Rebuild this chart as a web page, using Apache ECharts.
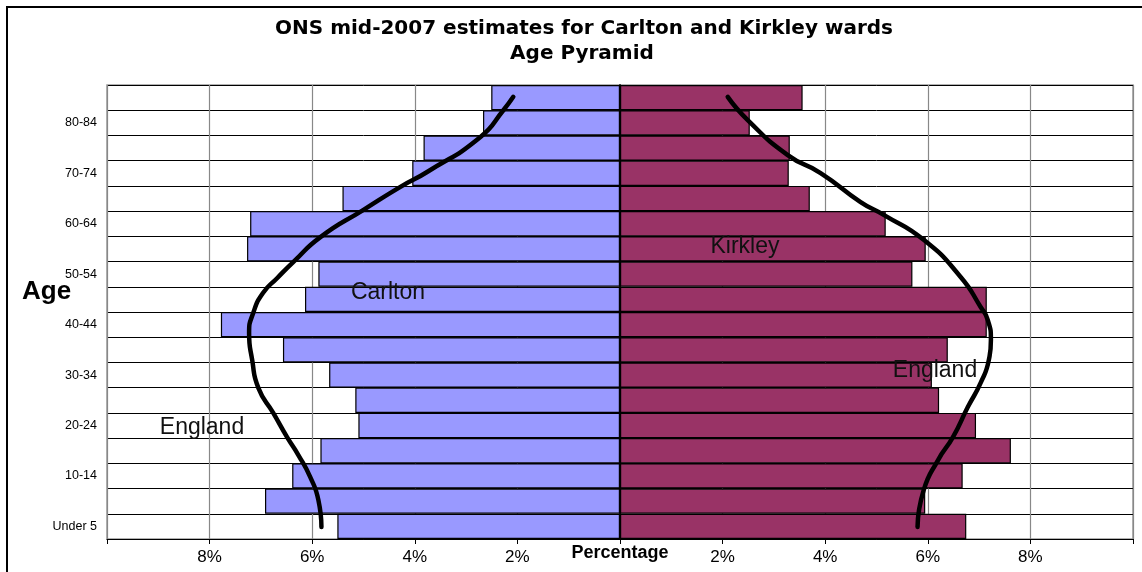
<!DOCTYPE html>
<html>
<head>
<meta charset="utf-8">
<script src="https://cdn.jsdelivr.net/npm/echarts@6/dist/echarts.min.js"></script>
<style>
html, body { margin: 0; padding: 0; background: #fff; }
#chart { width: 1142px; height: 572px; }
</style>
</head>
<body>
<div id="chart"></div>
<script>
// age bands, bottom to top
const ages = ["Under 5", "5-9", "10-14", "15-19", "20-24", "25-29", "30-34", "35-39", "40-44",
  "45-49", "50-54", "55-59", "60-64", "65-69", "70-74", "75-79", "80-84", "85+"];
// percentage of ward population in each band
const carlton = [5.51, 6.92, 6.39, 5.84, 5.10, 5.16, 5.67, 6.57, 7.78, 6.14, 5.88, 7.27, 7.21, 5.41, 4.05, 3.83, 2.67, 2.51];
const kirkley = [6.75, 5.95, 6.68, 7.62, 6.94, 6.22, 6.08, 6.39, 7.15, 7.15, 5.70, 5.96, 5.18, 3.70, 3.29, 3.31, 2.53, 3.56];
// hand drawn England outline: [percent, band position]
const englandLeft = [[5.82, -0.02], [5.88, 1.05], [6.04, 1.96], [6.27, 2.83], [6.49, 3.54], [6.76, 4.5], [7.05, 5.49],
  [7.17, 6.6], [7.23, 7.67], [7.15, 8.46], [6.96, 9.25], [6.68, 9.85], [6.37, 10.48], [5.84, 11.47], [5.0, 12.55],
  [4.28, 13.46], [3.76, 14.05], [2.72, 15.44], [2.27, 16.51], [2.08, 17.03]];
const englandRight = [[5.80, -0.02], [5.92, 1.44], [6.20, 2.63], [6.49, 3.54], [6.78, 4.73], [7.03, 5.69], [7.19, 6.6],
  [7.23, 7.39], [7.17, 8.18], [7.03, 8.7], [6.64, 9.89], [5.92, 11.36], [5.14, 12.35], [4.69, 12.86], [3.91, 14.01],
  [3.27, 14.72], [2.49, 16.11], [2.10, 17.03]];

const chart = echarts.init(document.getElementById("chart"));
const font = "Liberation Sans, Arial, sans-serif";

const option = {
  animation: false,
  backgroundColor: "#fff",
  textStyle: { fontFamily: font },
  grid: { left: 107, right: 9, top: 85, bottom: 33, show: true, borderColor: "#999", borderWidth: 1.5 },
  xAxis: {
    type: "value", min: -10, max: 10, interval: 2,
    axisLine: { onZero: false, lineStyle: { color: "#000", width: 1 } },
    axisTick: { show: true, length: 5, lineStyle: { color: "#000" } },
    axisLabel: {
      margin: 10, fontSize: 17, color: "#000", fontFamily: font,
      formatter: v => (v === 0 || Math.abs(v) === 10) ? "" : Math.abs(v) + "%"
    },
    splitLine: { show: true, lineStyle: { color: "#888", width: 1.2 } }
  },
  yAxis: [
    {
      type: "category", data: ages, position: "left",
      axisLine: { show: false, onZero: false }, axisTick: { show: false },
      axisLabel: { interval: 1, margin: 10, fontSize: 12.5, color: "#000", fontFamily: font },
      splitLine: { show: true, interval: 0, lineStyle: { color: "#000", width: 1 } }
    },
    {
      type: "category", data: ages, position: "left",
      axisLine: { onZero: true, onZeroAxisIndex: 0, lineStyle: { color: "#000", width: 1.5 } },
      axisTick: { alignWithLabel: true, interval: 0, length: 4, lineStyle: { color: "#000" } },
      axisLabel: { show: false }, splitLine: { show: false }
    },
    {
      type: "category", data: ages, position: "left",
      axisLine: { onZero: true, onZeroAxisIndex: 0, lineStyle: { color: "#000", width: 1.5 } },
      axisTick: { inside: true, alignWithLabel: true, interval: 0, length: 4, lineStyle: { color: "#000" } },
      axisLabel: { show: false }, splitLine: { show: false }
    },
    { type: "value", min: -0.5, max: 17.5, show: false }
  ],
  series: [
    {
      name: "Carlton", type: "bar", stack: "pyr", yAxisIndex: 0,
      barCategoryGap: 0, z: 3,
      itemStyle: { color: "#9999FF", borderColor: "#000", borderWidth: 1.2 },
      data: carlton.map(v => -v)
    },
    {
      name: "Kirkley", type: "bar", stack: "pyr", yAxisIndex: 0,
      barCategoryGap: 0, z: 3,
      itemStyle: { color: "#993366", borderColor: "#000", borderWidth: 1.2 },
      data: kirkley
    },
    {
      name: "England", type: "line", yAxisIndex: 3, smooth: 0.55, showSymbol: false, z: 5,
      lineStyle: { color: "#000", width: 4.5, cap: "round" },
      data: englandLeft.map(p => [-p[0], p[1]])
    },
    {
      name: "England ", type: "line", yAxisIndex: 3, smooth: 0.55, showSymbol: false, z: 5,
      lineStyle: { color: "#000", width: 4.5, cap: "round" },
      data: englandRight
    }
  ],
  graphic: [
    { type: "rect", z: 0, shape: { x: 7, y: 7, width: 1150, height: 600 },
      style: { fill: null, stroke: "#000", lineWidth: 2 } },
    { type: "text", z: 100, x: 584, y: 29,
      style: { text: "ONS mid-2007 estimates for Carlton and Kirkley wards", fill: "#000",
        font: "bold 20px DejaVu Sans", textAlign: "center", textVerticalAlign: "middle" } },
    { type: "text", z: 100, x: 582, y: 54,
      style: { text: "Age Pyramid", fill: "#000",
        font: "bold 20px DejaVu Sans", textAlign: "center", textVerticalAlign: "middle" } },
    { type: "text", z: 100, x: 22, y: 292,
      style: { text: "Age", fill: "#000", font: "bold 26px " + font, textAlign: "left", textVerticalAlign: "middle" } },
    { type: "text", z: 100, x: 620, y: 553,
      style: { text: "Percentage", fill: "#000", font: "bold 18px " + font, textAlign: "center", textVerticalAlign: "middle" } },
    { type: "text", z: 100, x: 388, y: 293,
      style: { text: "Carlton", fill: "#111", font: "23px " + font, textAlign: "center", textVerticalAlign: "middle" } },
    { type: "text", z: 100, x: 745, y: 247,
      style: { text: "Kirkley", fill: "#111", font: "23px " + font, textAlign: "center", textVerticalAlign: "middle" } },
    { type: "text", z: 100, x: 202, y: 428,
      style: { text: "England", fill: "#111", font: "23px " + font, textAlign: "center", textVerticalAlign: "middle" } },
    { type: "text", z: 100, x: 935, y: 371,
      style: { text: "England", fill: "#111", font: "23px " + font, textAlign: "center", textVerticalAlign: "middle" } }
  ]
};
chart.setOption(option);
</script>
</body>
</html>
